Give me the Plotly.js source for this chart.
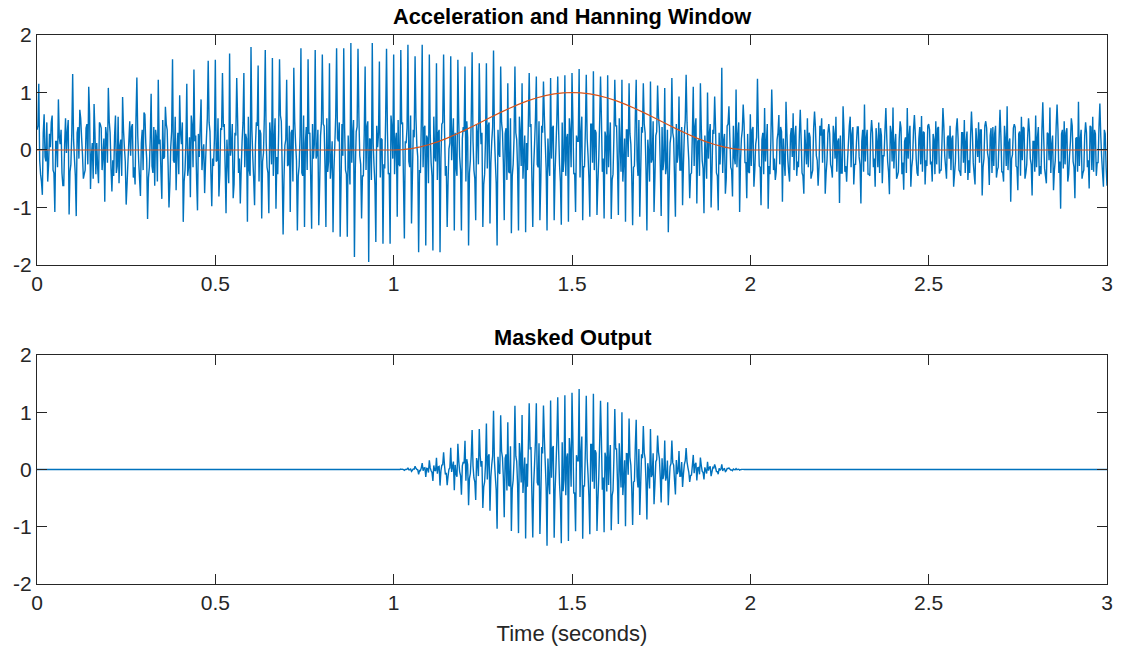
<!DOCTYPE html>
<html>
<head>
<meta charset="utf-8">
<script src="https://cdn.plot.ly/plotly-3.0.1.min.js"></script>
<style>html,body{margin:0;padding:0;background:#fff;}#chart{width:1121px;height:650px;}</style>
</head>
<body>
<div id="chart"></div>
<script>
// ---- data ----
const sampleStep = 0.0025;          // seconds between plotted samples
// acceleration at the even samples (t = 0, 0.005, 0.010 ... 3.000 s)
const accel = [
.35,1.15,-.42,-.78, .62,-.20,-.55,.28, .48,-.35,-1.08,.15, .88,.10,-.40,-.62, .55,.32,-1.12,-.25,
1.32,-.15,-1.15,.40, .70,.22,-.50,-.35, .45,1.10,-.68,.12, .80,-.42,-.30,.48, .38,-.10,-.90,.25,
1.08,.30,-.72,-.45, .60,-.28,-.58,.18, .92,.05,-.95,-.20, .50,.40,-.48,-.60, 1.26,-.18,-.80,.35,
.65,.12,-1.20,-.30, .98,-.40,-.62,.22, 1.22,.18,-.85,-.15, .75,.35,-1.00,.05, 1.58,-.22,-.70,.30,
.95,.10,-1.25,-.35, 1.15,-.30,-.82,.42, 1.40,.25,-1.05,-.12, .88,-.05,-.75,.20, 1.55,.32,-.98,-.28,
1.57,-.18,-.81,.38, 1.34,.45,-1.10,-.22, 1.68,.05,-.84,.30, 1.25,-.40,-.93,.15, 1.34,.28,-1.25,-.35,
1.79,-.12,-.96,.48, 1.47,.35,-1.19,-.05, 1.74,-.30,-1.10,.22, 1.60,.18,-1.02,-.42, 1.58,.50,-1.47,.08,
1.22,-.25,-1.08,.35, 1.43,.12,-1.40,-.28, 1.77,-.45,-1.34,.40, 1.58,.30,-1.37,-.15, 1.74,-.08,-1.31,.25,
1.66,.42,-1.34,-.38, 1.51,-.22,-1.43,.10, 1.77,.15,-1.51,.45, 1.77,-.35,-1.51,-.20, 1.86,.25,-1.86,.32,
1.76,-.10,-1.19,-.45, 1.45,.40,-1.95,.18, 1.86,-.28,-1.60,.05, 1.54,.20,-1.63,-.32, 1.76,-.42,-1.63,.38,
1.66,.15,-1.16,-.25, 1.74,.48,-1.54,.12, 1.83,-.30,-1.28,.35, 1.63,.08,-1.78,-.40, 1.83,.38,-1.66,.20,
1.66,-.22,-1.75,-.10, 1.51,.30,-1.78,.45, 1.66,-.45,-1.34,.02, 1.63,.22,-1.40,-.30, 1.57,-.12,-1.40,.40,
1.45,.50,-1.66,-.18, 1.70,-.35,-1.22,.28, 1.51,.10,-1.34,-.42, 1.51,.42,-1.28,.15, 1.73,-.20,-1.66,-.05,
1.45,.32,-1.22,.38, 1.16,-.40,-1.45,-.25, 1.45,.18,-1.40,.30, 1.16,-.08,-1.43,-.35, 1.34,.45,-1.34,.10,
1.28,-.30,-1.22,.42, 1.19,.12,-1.40,-.20, 1.25,.38,-1.22,.05, 1.28,-.25,-1.30,-.38, 1.30,.20,-1.25,.32,
1.34,-.42,-1.08,.15, 1.41,.28,-1.22,-.30, 1.31,-.10,-1.16,.45, 1.37,.35,-1.13,-.15, 1.28,-.38,-1.19,.22,
1.30,.15,-1.20,-.42, 1.22,.42,-1.13,.08, 1.22,-.20,-1.25,.35, 1.16,.10,-1.31,-.28, 1.22,-.45,-1.16,.40,
1.16,.30,-1.40,-.05, 1.19,-.15,-1.08,.25, 1.12,.38,-1.15,-.35, 1.08,-.28,-1.43,.12, 1.25,.20,-1.16,-.22,
.93,-.35,-.96,.30, 1.31,.12,-.84,-.40, 1.10,.40,-.93,.18, 1.16,-.18,-1.10,-.10, 1.00,.28,-1.00,.35,
.93,-.40,-1.05,-.25, 1.43,.15,-.76,.42, .76,-.30,-.81,-.12, 1.05,.25,-1.08,.20, .79,-.22,-.84,-.38,
.62,.35,-.64,.10, 1.24,-.28,-.96,.30, .73,.12,-1.02,-.42, 1.05,-.35,-.52,.18, .61,.40,-.90,-.20,
.84,-.15,-.55,.38, .64,.25,-.45,-.30, .70,-.40,-.76,.05, .55,.30,-.50,-.35, .67,-.10,-.62,.42,
.55,.35,-.76,-.18, .45,-.25,-.48,.28, .58,.15,-.92,-.40, .76,-.38,-.55,.12, .58,.28,-.60,-.25,
.40,-.12,-.93,.35, .79,.20,-.42,-.45, .52,-.30,-.64,.15, .48,.38,-.58,-.10, .73,-.20,-.77,.30,
.74,.10,-.50,-.38, .50,-.42,-.69,.22, .73,.25,-.64,-.15, .61,-.15,-.45,.40, .59,.32,-.60,-.28,
.45,-.25,-.55,.18, .50,.38,-.41,-.35, .73,-.10,-.50,.25, .42,.20,-.64,-.20, .55,-.35,-.45,.30,
.52,.15,-.52,-.40, .67,-.22,-.60,.12, .48,.35,-.79,-.15, .50,-.05,-.61,.38, .40,.28,-.48,-.30,
.70,-.38,-.55,.20, .76,.12,-.90,-.08, .45,-.28,-.70,.32, .58,.40,-.50,-.25, .55,-.15,-.79,.15,
.60,.22,-.45,-.42, .83,-.32,-.58,.28, .74,.10,-.70,-.18, .79,-.40,-1.02,.35, .50,.30,-.55,-.10,
.55,-.20,-.84,.22, .84,.18,-.50,-.35, .48,-.30,-.67,.40, .58,.35,-.45,-.22, .81,-.12,-.64,.28,
-.62
];
// acceleration at the odd samples, between the even ones (t = 0.0025, 0.0075 ... 2.9975 s)
const accelBetween = [
.42,-.18,-.55,.30, -.12,.48,-.25,.05, .60,-.40,.15,-.30, .22,.35,-.62,.10, -.05,.52,-.38,.28,
.18,-.45,.30,-.15, .55,-.08,-.42,.38, -.25,.62,-.10,-.50, .30,.12,-.58,.45, -.35,.20,.40,-.22,
.50,-.32,-.18,.25, -.40,.58,.08,-.45, .35,-.20,-.60,.15, -.10,.45,-.30,.55, .25,-.50,.12,-.35,
.62,-.15,-.48,.20, -.28,.40,.35,-.55, .10,-.38,.52,-.12, .45,-.25,-.60,.32, -.18,.58,-.05,-.42,
.30,.48,-.55,.12, -.45,.22,.60,-.30, .15,-.52,.28,.40, -.35,.10,-.22,.55, .48,-.40,-.15,.20,
-.20,.55,-.42,.35, .40,-.30,.18,-.58, -.10,.45,-.60,.25, .52,-.15,-.35,.48, -.30,.20,.58,-.45,
.35,-.50,.10,.42, -.55,.28,-.20,.60, .15,-.40,.48,-.25, -.45,.55,-.12,.30, .60,-.35,-.50,.18,
-.28,.42,.30,-.55, .50,-.18,-.45,.25, -.40,.60,.12,-.35, .28,-.52,.45,.10, -.15,.35,-.60,.48,
.45,-.30,.55,-.20, -.50,.15,-.35,.58, .20,.48,-.55,-.10, .38,-.42,.25,-.60, -.22,.52,-.30,.40,
.58,-.25,-.45,.30, -.35,.50,.20,-.52, .12,-.60,.42,.28, -.48,.18,-.25,.55, .32,-.40,.60,-.15,
-.42,.30,.52,-.28, .45,-.55,.15,.38, -.20,.60,-.48,.22, .55,-.12,-.35,.50, -.30,.42,.25,-.58,
.28,-.45,.58,-.20, -.52,.35,-.15,.48, .40,-.28,-.55,.12, -.18,.55,.30,-.45, .50,-.35,.20,.32,
-.55,.22,-.40,.58, .15,-.50,.45,-.25, .52,.30,-.60,.18, -.32,.48,-.22,.40, .25,-.58,.35,-.12,
.48,-.20,.28,-.52, -.38,.55,-.45,.20, .30,-.35,.58,-.28, -.50,.25,.12,.45, .40,-.48,-.30,.55,
-.25,.50,-.55,.30, .58,-.32,.20,-.45, -.15,.42,-.38,.52, .35,-.55,.48,-.18, -.45,.28,.55,-.30,
.52,-.40,.25,.15, -.48,.58,-.28,.35, .20,-.50,.45,-.22, -.35,.30,-.58,.48, .55,-.15,.32,-.42,
-.30,.48,-.52,.22, .42,-.25,.55,-.38, -.55,.20,.35,-.12, .28,-.45,-.30,.58, -.18,.52,-.40,.30,
.45,-.35,.18,-.55, -.22,.50,-.48,.32, .58,-.28,.40,-.18, -.42,.35,-.55,.25, .30,-.50,.45,-.08,
-.35,.40,-.25,.52, .48,-.18,-.42,.30, -.28,.55,.15,-.45, .40,-.32,.25,-.50, -.15,.45,-.38,.28,
.38,-.45,.30,.12, -.40,.28,-.50,.45, .22,-.35,.42,-.25, -.30,.48,-.18,.35, .45,-.22,.28,-.40,
-.28,.40,-.35,.22, .35,-.30,.18,-.42, -.20,.45,-.28,.15, .40,-.15,-.38,.30, -.25,.32,.20,-.45,
.30,-.38,.25,-.12, -.35,.42,-.20,.28, .18,-.45,.35,-.25, -.30,.22,-.42,.38, .40,-.18,-.30,.25,
-.22,.35,-.40,.30, .28,-.32,.42,-.15, -.38,.20,.25,-.40, .35,-.28,-.18,.42, -.30,.40,-.25,.12,
.40,-.25,.15,-.38, -.20,.35,-.42,.28, .30,-.15,.38,-.30, -.40,.25,-.10,.35, .22,-.38,.42,-.20,
-.32,.28,-.45,.20, .38,-.22,.15,-.40, -.15,.42,-.30,.35, .28,-.40,.20,-.25, -.38,.30,-.18,.42,
.35,-.20,.28,-.42, -.25,.40,-.35,.18, .42,-.30,.22,-.15, -.35,.25,-.42,.38, .20,-.38,.30,-.22,
-.40,.32,-.18,.25, .30,-.42,.38,-.12, -.22,.35,-.30,.42, .38,-.15,.25,-.40, -.28,.42,-.35,.20,
.25,-.38,.42,-.28, -.35,.20,-.15,.38, .40,-.30,.28,-.45, -.18,.38,-.40,.22, .32,-.25,.15,-.38,
-.30,.40,-.28,.35, .22,-.45,.30,-.18, -.40,.25,-.35,.42, .35,-.20,.28,-.32, -.25,.38,-.42,.15,
.42,-.30,.20,-.38, -.28,.35,-.40,.25, .30,-.18,.42,-.35, -.38,.28,-.22,.40, .25,-.40,.35,-.30
];

const windowStart = 1.0;            // seconds
const windowStep = 0.025;           // seconds between window readings
const hanningWindow = [
0,.0062,.0245,.0545,.0955,.1464,.2061,.273,.3455,.4218,
.5,.5782,.6545,.727,.7939,.8536,.9045,.9455,.9755,.9938,
1,
.9938,.9755,.9455,.9045,.8536,.7939,.727,.6545,.5782,.5,
.4218,.3455,.273,.2061,.1464,.0955,.0545,.0245,.0062,0
];

const maskedStart = 1.0;            // masked output is non-zero from 1 s to 2 s, zero elsewhere
// masked output at even samples (1.000, 1.005 ... 2.000 s)
const maskedOutput = [
0,0,-.001,-.001, .007,.003,-.014,.001, .029,-.006,-.031,.010, .057,.003,-.085,-.022, .113,.026,-.129,.017,
.159,-.023,-.201,-.013, .205,.044,-.281,.076, .301,-.087,-.276,.004, .378,.054,-.363,-.082, .451,-.036,-.442,.132,
.501,.180,-.624,-.070, .691,-.148,-.534,.127, .708,.048,-.67,-.217, .802,.230,-.720,.087, 1.027,-.122,-1.036,-.032,
.949,.214,-.835,.265, .827,-.291,-1.074,-.189, 1.113,.141,-1.111,.242, .950,-.066,-1.204,-.299, 1.158,.394,-1.186,.090,
1.158,-.274,-1.125,.391, 1.116,.113,-1.333,-.192, 1.206,.369,-1.190,.049, 1.260,-.247,-1.288,-.378, 1.295,.200,-1.249,.320,
1.34,-.420,-1.079,.150, 1.405,.278,-1.209,-.296, 1.289,-.098,-1.132,.437, 1.322,.336,-1.076,-.142, 1.201,-.354,-1.097,.201,
1.176,.134,-1.062,-.368, 1.055,.359,-.952,.066, .999,-.161,-.992,.273, .891,.075,-.971,-.204, .870,-.314,-.794,.268,
.759,.192,-.874,-.030, .707,-.087,-.608,.137, .595,.196,-.575,-.170, .506,-.127,-.625,.051, .508,.078,-.436,-.079,
.321,-.116,-.303,.090, .376,.033,-.218,-.098, .255,.088,-.192,.035, .210,-.030,-.173,-.015, .136,.035,-.115,.037,
.089,-.035,-.082,-.017, .088,.008,-.036,.017, .027,-.009,-.020,-.002, .016,.003,-.010,.001, .003,0,-.001,0,
0
];
// masked output at odd samples (1.0025 ... 1.9975 s)
const maskedBetween = [
0,0,.001,-.001, .002,-.004,.002,.005, -.004,.013,-.013,.007, .021,-.005,-.018,.029, -.020,.031,.021,-.053,
.028,-.049,.070,-.026, -.073,.053,-.025,.084, .075,-.056,-.117,.027, -.043,.139,.080,-.126, .147,-.108,.065,.108,
-.194,.081,-.153,.231, .062,-.215,.200,-.115, .248,.148,-.305,.094, -.173,.266,-.125,.234, .150,-.358,.221,-.078,
.318,-.135,.194,-.367, -.274,.404,-.336,.152, .232,-.276,.464,-.228, -.412,.209,.102,.387, .348,-.422,-.267,.495,
-.227,.459,-.509,.280, .546,-.304,.191,-.433, -.145,.409,-.372,.511, .345,-.544,.476,-.179, -.449,.280,.550,-.300,
.520,-.400,.250,.150, -.478,.576,-.277,.345, .196,-.489,.438,-.213, -.337,.287,-.550,.452, .514,-.139,.294,-.382,
-.270,.427,-.458,.191, .361,-.212,.460,-.313, -.447,.160,.276,-.093, .213,-.336,-.220,.418, -.127,.359,-.271,.199,
.291,-.221,.111,-.331, -.129,.285,-.266,.173, .304,-.142,.197,-.086, -.194,.156,-.236,.104, .120,-.192,.166,-.028,
-.118,.129,-.077,.153, .134,-.048,-.106,.072, -.063,.117,.030,-.084, .070,-.052,.038,-.071, -.020,.054,-.042,.028,
.035,-.037,.022,.008, -.023,.014,-.022,.017, .007,-.009,.009,-.004, -.004,.005,-.001,.002, .001,0,0,0
];

const timeStart = 0, timeEnd = 3;
const xTickVals = [0, 0.5, 1, 1.5, 2, 2.5, 3];
const xTickText = ['0', '0.5', '1', '1.5', '2', '2.5', '3'];
const yTickVals = [-2, -1, 0, 1, 2];
const yTickText = ['-2', '-1', '0', '1', '2'];
const topTitle = 'Acceleration and Hanning Window';
const bottomTitle = 'Masked Output';
const xLabel = 'Time (seconds)';

// ---- build traces ----
const r4 = v => Math.round(v * 10000) / 10000;
function interleave(even, odd) {
  const out = [];
  for (let i = 0; i < even.length; i++) {
    out.push(even[i]);
    if (i < odd.length) out.push(odd[i]);
  }
  return out;
}
const accelAll = interleave(accel, accelBetween);
const accelTime = accelAll.map((_, i) => r4(timeStart + i * sampleStep));
const maskedAll = interleave(maskedOutput, maskedBetween);
const maskTime = maskedAll.map((_, i) => r4(maskedStart + i * sampleStep));
const winTime = hanningWindow.map((_, i) => r4(windowStart + i * windowStep));

const blue = '#0072BD', red = '#D95319', axisCol = '#262626';
const FONT = 'Liberation Sans, Arial, Helvetica, sans-serif';

const traces = [
  {x: accelTime, y: accelAll, xaxis: 'x', yaxis: 'y', type: 'scatter', mode: 'lines',
   line: {color: blue, width: 1.4, simplify: false}, hoverinfo: 'skip'},
  {x: [timeStart].concat(winTime, [timeEnd]), y: [0].concat(hanningWindow, [0]),
   xaxis: 'x', yaxis: 'y', type: 'scatter', mode: 'lines',
   line: {color: red, width: 1.2, simplify: false}, hoverinfo: 'skip'},
  {x: [timeStart].concat(maskTime, [timeEnd]), y: [0].concat(maskedAll, [0]),
   xaxis: 'x2', yaxis: 'y2', type: 'scatter', mode: 'lines',
   line: {color: blue, width: 1.4, simplify: false}, hoverinfo: 'skip'}
];

function xAx(anchor, extra) {
  return Object.assign({
    anchor: anchor, domain: [0, 1], range: [timeStart, timeEnd],
    tickmode: 'array', tickvals: xTickVals, ticktext: xTickText,
    ticks: 'inside', ticklen: 10, tickwidth: 1, tickcolor: axisCol,
    showline: true, linecolor: axisCol, linewidth: 1, mirror: 'ticks',
    showgrid: false, zeroline: false,
    tickfont: {family: FONT, size: 21, color: axisCol}
  }, extra || {});
}
function yAx(anchor, domain) {
  return {
    anchor: anchor, domain: domain, range: [-2, 2],
    tickmode: 'array', tickvals: yTickVals, ticktext: yTickText,
    ticks: 'inside', ticklen: 10, tickwidth: 1, tickcolor: axisCol,
    showline: true, linecolor: axisCol, linewidth: 1, mirror: 'ticks',
    showgrid: false, zeroline: false,
    tickfont: {family: FONT, size: 21, color: axisCol}
  };
}

const layout = {
  width: 1121, height: 650,
  paper_bgcolor: '#fff', plot_bgcolor: '#fff',
  showlegend: false,
  margin: {l: 37, r: 14, t: 35, b: 66, pad: 0},
  xaxis: xAx('y'),
  yaxis: yAx('x', [0.5811, 1]),
  xaxis2: xAx('y2', {title: {text: xLabel, font: {family: FONT, size: 22, color: axisCol}, standoff: 12}}),
  yaxis2: yAx('x2', [0, 0.4171]),
  annotations: [
    {text: '<b>' + topTitle + '</b>', xref: 'paper', yref: 'paper', x: 0.5, y: 1.0328,
     xanchor: 'center', yanchor: 'middle', showarrow: false,
     font: {family: FONT, size: 21.8, color: '#000'}},
    {text: '<b>' + bottomTitle + '</b>', xref: 'paper', yref: 'paper', x: 0.5, y: 0.4481,
     xanchor: 'center', yanchor: 'middle', showarrow: false,
     font: {family: FONT, size: 21.8, color: '#000'}}
  ]
};

Plotly.newPlot('chart', traces, layout, {staticPlot: true, displayModeBar: false});
</script>
</body>
</html>
